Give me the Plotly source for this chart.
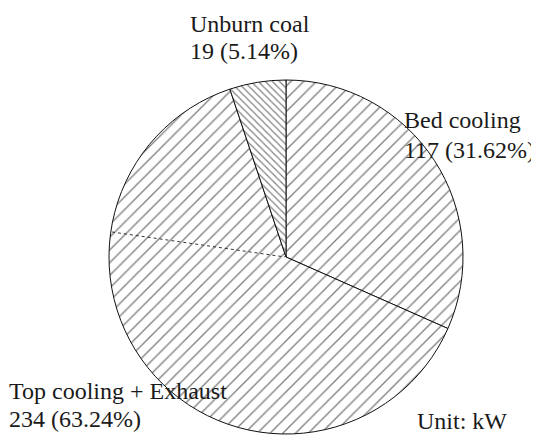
import plotly.graph_objects as go

labels = ["Bed cooling", "Top cooling + Exhaust", "Unburn coal"]
values = [117, 234, 19]
patterns = ["/", "/", "\\"]
pattern_sizes = [9, 9, 5]
unit_label = "Unit: kW"

total = sum(values)
value_texts = [f"{v} ({v / total * 100:.2f}%)" for v in values]

W, H = 531, 427  # page body has an 8px margin inside the 539x435 window

fig = go.Figure(go.Pie(
    labels=labels,
    values=values,
    sort=False,
    direction="clockwise",
    rotation=0,
    textinfo="none",
    hoverinfo="label+value+percent",
    showlegend=False,
    marker=dict(
        colors=["white"] * 3,
        line=dict(color="#111111", width=1),
        pattern=dict(shape=patterns, size=pattern_sizes, solidity=[0.15, 0.15, 0.24],
                     fgcolor="black", bgcolor="white", fillmode="overlay"),
    ),
    domain=dict(x=[0.1902, 0.8569], y=[0.0023, 0.8314]),
))

font = dict(family="Liberation Serif", size=24, color="#1a1a1a")
# (x, y of label line, y of value line) in paper coordinates
ann_pos = [
    (0.742, 0.7386, 0.6684),
    (-0.002, 0.1040, 0.0384),
    (0.339, 0.9635, 0.9002),
]
for lab, vt, (x, y1, y2) in zip(labels, value_texts, ann_pos):
    for t, y in ((lab, y1), (vt, y2)):
        fig.add_annotation(text=t, xref="paper", yref="paper", showarrow=False,
                           x=x, y=y, xanchor="left", yanchor="middle", font=font)

fig.add_annotation(text=unit_label, xref="paper", yref="paper", showarrow=False,
                   x=0.9435, y=0.0337, xanchor="right", yanchor="middle", font=font)

fig.add_shape(type="line", xref="paper", yref="paper",
              x0=0.1959, y0=0.4754, x1=0.5217, y1=0.4169,
              line=dict(color="#333333", width=1, dash="dot"))

fig.update_layout(
    width=W, height=H,
    margin=dict(l=0, r=0, t=0, b=0),
    paper_bgcolor="white", plot_bgcolor="white",
)

fig.write_html("out.html")
